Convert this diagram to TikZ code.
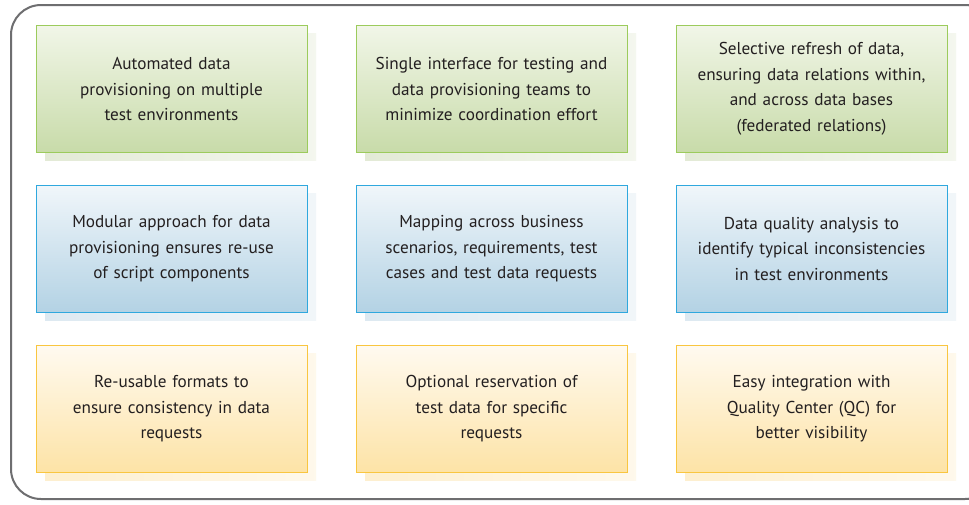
\documentclass[tikz,border=0pt]{standalone}
\usepackage{fontspec}
\setmainfont{PT Sans}
\begin{document}
\begin{tikzpicture}[x=1pt,y=-1pt,
  card/.style={minimum width=271pt,minimum height=127pt,text width=260pt,align=center,
    inner sep=0pt,line width=0.8pt,text=txt,font=\fontsize{17.2}{25.5}\selectfont},
  gcard/.style={card,draw=gbd,top color=gtop,bottom color=gbot},
  bcard/.style={card,draw=bbd,top color=btop,bottom color=bbot},
  ocard/.style={card,draw=obd,top color=otop,bottom color=obot},
  shad/.style={minimum width=271pt,minimum height=127pt,inner sep=0pt,draw=none}]
\definecolor{txt}{HTML}{231F20}
\definecolor{frm}{HTML}{6E6E70}
\definecolor{gbd}{HTML}{9CCB5C}\definecolor{gtop}{HTML}{F1F6E8}\definecolor{gbot}{HTML}{C8DBA9}
\definecolor{bbd}{HTML}{2FA8DE}\definecolor{btop}{HTML}{F0F6FA}\definecolor{bbot}{HTML}{B3D2E4}
\definecolor{obd}{HTML}{F9C640}\definecolor{otop}{HTML}{FFFAF0}\definecolor{obot}{HTML}{FDE3A6}
\definecolor{gsh}{HTML}{E3EAD6}\definecolor{bsh}{HTML}{DDE9F1}\definecolor{osh}{HTML}{FDEFCF}
\useasboundingbox (0,0) rectangle (969,504);
\fill[white] (0,0) rectangle (969,504);
\draw[frm,line width=2pt,rounded corners=30pt] (11,5) rectangle (995,499);
% shadows
\foreach \cx/\cy/\c [count=\i] in {171.5/89/gsh,491.5/89/gsh,811.5/89/gsh,171.5/249/bsh,491.5/249/bsh,811.5/249/bsh,171.5/409/osh,491.5/409/osh,811.5/409/osh}{
  \node[shad,left color=\c,right color=\c!40] (s\i) at (\cx+9,\cy+8) {};
}
\node[gcard] (a1) at (171.5,89) {Automated data\\provisioning on multiple\\test environments};
\node[gcard] (a2) at (491.5,89) {Single interface for testing and\\data provisioning teams to\\minimize coordination effort};
\node[gcard] (a3) at (811.5,89) {Selective refresh of data,\\ensuring data relations within,\\and across data bases\\(federated relations)};
\node[bcard] (b1) at (171.5,249) {Modular approach for data\\provisioning ensures re-use\\of script components};
\node[bcard] (b2) at (491.5,249) {Mapping across business\\scenarios, requirements, test\\cases and test data requests};
\node[bcard] (b3) at (811.5,249) {Data quality analysis to\\identify typical inconsistencies\\in test environments};
\node[ocard] (c1) at (171.5,409) {Re-usable formats to\\ensure consistency in data\\requests};
\node[ocard] (c2) at (491.5,409) {Optional reservation of\\test data for specific\\requests};
\node[ocard] (c3) at (811.5,409) {Easy integration with\\Quality Center (QC) for\\better visibility};
\end{tikzpicture}
\end{document}
